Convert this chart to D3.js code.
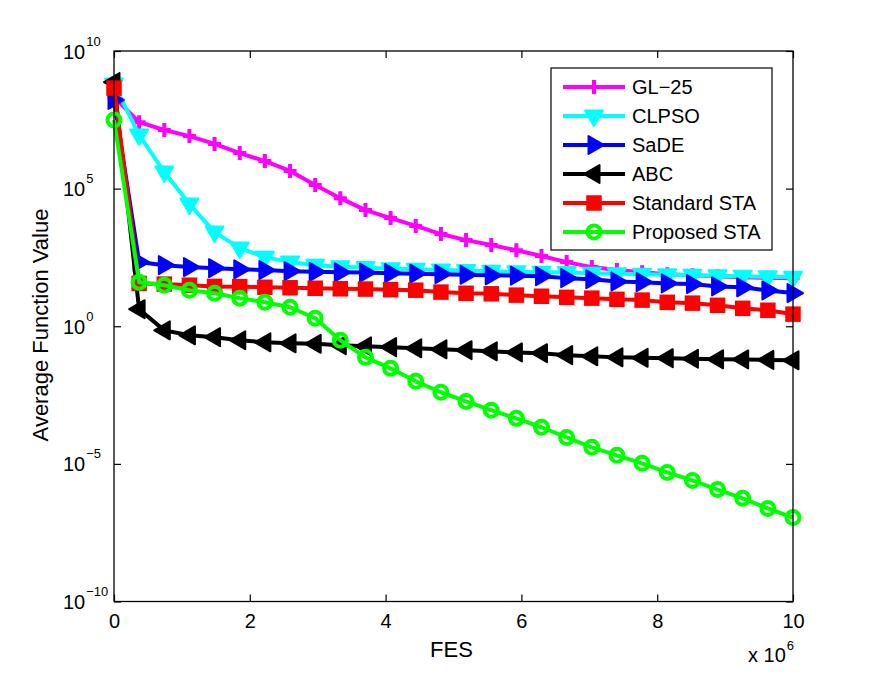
<!DOCTYPE html>
<html>
<head>
<meta charset="utf-8">
<script src="https://cdn.jsdelivr.net/npm/d3@7"></script>
<style>
  body { margin: 0; background: #fff; }
  svg { display: block; font-family: "Liberation Sans", Arial, Helvetica, sans-serif; }
</style>
</head>
<body>
<svg width="878" height="678"></svg>
<script>
const width = 878, height = 678;

// FES, in units of 10^6
const fes = [0, 0.37, 0.741, 1.111, 1.481, 1.852, 2.222, 2.593, 2.963, 3.333, 3.704, 4.074, 4.444, 4.815,
  5.185, 5.556, 5.926, 6.296, 6.667, 7.037, 7.407, 7.778, 8.148, 8.519, 8.889, 9.259, 9.63, 10];

const gl25 = [2.1e8, 2.6e7, 1.35e7, 8.1e6, 4.2e6, 1.95e6, 1.0e6, 4.4e5, 1.35e5, 4.5e4, 1.66e4, 8.5e3, 4.4e3, 2.24e3,
  1.35e3, 891, 575, 355, 214, 141, 110, 91, 78, 71, 66, 60, 58, 56];
const clpso = [6.3e8, 8.9e6, 4.0e5, 2.75e4, 2.63e3, 692, 324, 214, 166, 145, 135, 123, 117, 110,
  105, 100, 95, 91, 89, 85, 81, 78, 74, 71, 69, 66, 63, 60];
const sade = [1.66e8, 214, 166, 141, 129, 117, 110, 100, 95, 91, 89, 85, 81, 78,
  74, 71, 69, 66, 56, 51, 42, 40, 36, 34, 28, 26, 20, 16];
const abc = [7.4e8, 4.17, 0.71, 0.47, 0.40, 0.31, 0.26, 0.24, 0.23, 0.204, 0.186, 0.174, 0.158, 0.145,
  0.135, 0.123, 0.112, 0.105, 0.089, 0.081, 0.074, 0.071, 0.069, 0.066, 0.063, 0.062, 0.060, 0.058];
const standardSta = [4.5e8, 36, 34, 31, 28, 27.5, 26, 25, 24, 23, 22.4, 21.4, 20.4, 17.4,
  15.8, 15.1, 13.5, 12.3, 11.2, 10.5, 9.5, 8.9, 7.4, 6.9, 5.75, 4.47, 3.8, 2.75];
const proposedSta = [3.1e7, 40, 31, 20.4, 15.8, 10.5, 7.4, 4.9, 1.95, 0.31, 0.074, 0.0295, 0.01, 0.004,
  1.86e-3, 8.9e-4, 4.5e-4, 2.14e-4, 9.1e-5, 4.0e-5, 2.04e-5, 1.05e-5, 4.9e-6, 2.5e-6, 1.17e-6, 5.6e-7, 2.4e-7, 1.12e-7];

const xTicks = [0, 2, 4, 6, 8, 10];
const yTickExps = [10, 5, 0, -5, -10];

const series = [
  { name: "GL\u221225", values: gl25, color: "#ff00ff", marker: "plus" },
  { name: "CLPSO", values: clpso, color: "#00ffff", marker: "down" },
  { name: "SaDE", values: sade, color: "#0000ff", marker: "right" },
  { name: "ABC", values: abc, color: "#000000", marker: "left" },
  { name: "Standard STA", values: standardSta, color: "#ff0000", marker: "square" },
  { name: "Proposed STA", values: proposedSta, color: "#00ff00", marker: "circle" }
];

const svg = d3.select("svg");
svg.append("rect").attr("width", width).attr("height", height).attr("fill", "#fff");

const plotLeft = 114, plotRight = 793, plotTop = 51, plotBottom = 601.5;

const x = d3.scaleLinear().domain([0, 10]).range([plotLeft, plotRight]);
const y = d3.scaleLog().domain([1e-10, 1e10]).range([plotBottom, plotTop]);

// axes with inward ticks
svg.append("g")
  .attr("transform", `translate(0,${plotBottom})`)
  .call(d3.axisBottom(x).tickValues(xTicks).tickSizeInner(-7).tickSizeOuter(0).tickPadding(12)
    .tickFormat(d3.format("d")))
  .call(g => g.select(".domain").remove())
  .call(g => g.selectAll("text").attr("font-size", 20).attr("fill", "#000"));

svg.append("g")
  .attr("transform", `translate(0,${plotTop})`)
  .call(d3.axisTop(x).tickValues(xTicks).tickSizeInner(-7).tickSizeOuter(0).tickFormat(""))
  .call(g => g.select(".domain").remove());

const yVals = yTickExps.map(e => Math.pow(10, e));
svg.append("g")
  .attr("transform", `translate(${plotLeft},0)`)
  .call(d3.axisLeft(y).tickValues(yVals).tickSizeInner(-7).tickSizeOuter(0).tickFormat(""))
  .call(g => g.select(".domain").remove());

svg.append("g")
  .attr("transform", `translate(${plotRight},0)`)
  .call(d3.axisRight(y).tickValues(yVals).tickSizeInner(-7).tickSizeOuter(0).tickFormat(""))
  .call(g => g.select(".domain").remove());

svg.selectAll(".tick line").attr("stroke", "#000").attr("stroke-width", 1.2);
svg.selectAll("g[font-family]").attr("font-family", null);

// y tick labels with superscript exponents
yTickExps.forEach(e => {
  const t = svg.append("text")
    .attr("x", 63)
    .attr("y", y(Math.pow(10, e)) + 7.5)
    .attr("font-size", 20);
  t.append("tspan").text("10");
  t.append("tspan").attr("font-size", 13).attr("dy", -13).attr("dx", 1)
    .text(e < 0 ? "\u2212" + Math.abs(e) : String(e));
});

// series lines and markers
function drawMarker(g, type, color) {
  if (type === "plus") {
    g.append("path").attr("d", "M-6.5,0H6.5M0,-7V7")
      .attr("stroke", color).attr("stroke-width", 4).attr("fill", "none");
  } else if (type === "down") {
    g.append("path").attr("d", "M-9,-5.5L9,-5.5L0,10Z")
      .attr("fill", color).attr("stroke", color).attr("stroke-width", 2).attr("stroke-linejoin", "round");
  } else if (type === "right") {
    g.append("path").attr("d", "M-5.5,-9L-5.5,9L10,0Z")
      .attr("fill", color).attr("stroke", color).attr("stroke-width", 2).attr("stroke-linejoin", "round");
  } else if (type === "left") {
    g.append("path").attr("d", "M5.5,-9L5.5,9L-10,0Z")
      .attr("fill", color).attr("stroke", color).attr("stroke-width", 2).attr("stroke-linejoin", "round");
  } else if (type === "square") {
    g.append("rect").attr("x", -6.5).attr("y", -6.5).attr("width", 13).attr("height", 13)
      .attr("fill", color).attr("stroke", color).attr("stroke-width", 2.5);
  } else if (type === "circle") {
    g.append("circle").attr("r", 6.5)
      .attr("fill", "none").attr("stroke", color).attr("stroke-width", 4);
  }
}

const line = d3.line()
  .x((d, i) => x(fes[i]))
  .y(d => y(d));

series.forEach(s => {
  const g = svg.append("g");
  g.append("path")
    .attr("d", line(s.values))
    .attr("fill", "none")
    .attr("stroke", s.color)
    .attr("stroke-width", 4)
    .attr("stroke-linejoin", "round");
  s.values.forEach((v, i) => {
    const m = g.append("g").attr("transform", `translate(${x(fes[i])},${y(v)})`);
    drawMarker(m, s.marker, s.color);
  });
});

// plot box
svg.append("rect")
  .attr("x", plotLeft).attr("y", plotTop)
  .attr("width", plotRight - plotLeft).attr("height", plotBottom - plotTop)
  .attr("fill", "none").attr("stroke", "#000").attr("stroke-width", 1.3);

// legend
const legend = svg.append("g");
legend.append("rect")
  .attr("x", 551).attr("y", 68).attr("width", 221).attr("height", 182)
  .attr("fill", "#fff").attr("stroke", "#000").attr("stroke-width", 1.2);

series.forEach((s, i) => {
  const ly = 87 + i * 29;
  legend.append("line")
    .attr("x1", 563).attr("x2", 625).attr("y1", ly).attr("y2", ly)
    .attr("stroke", s.color).attr("stroke-width", 4);
  const m = legend.append("g").attr("transform", `translate(594,${ly})`);
  drawMarker(m, s.marker, s.color);
  legend.append("text")
    .attr("x", 632).attr("y", ly + 7)
    .attr("font-size", 20)
    .text(s.name);
});

// axis labels
svg.append("text")
  .attr("x", (plotLeft + plotRight) / 2 - 2).attr("y", 657)
  .attr("text-anchor", "middle").attr("font-size", 22)
  .text("FES");

svg.append("text")
  .attr("transform", "translate(48,325) rotate(-90)")
  .attr("text-anchor", "middle").attr("font-size", 22)
  .text("Average Function Value");

const mult = svg.append("text")
  .attr("x", 748).attr("y", 662).attr("font-size", 20);
mult.append("tspan").text("x 10");
mult.append("tspan").attr("font-size", 13).attr("dy", -12).attr("dx", 1).text("6");
</script>
</body>
</html>
